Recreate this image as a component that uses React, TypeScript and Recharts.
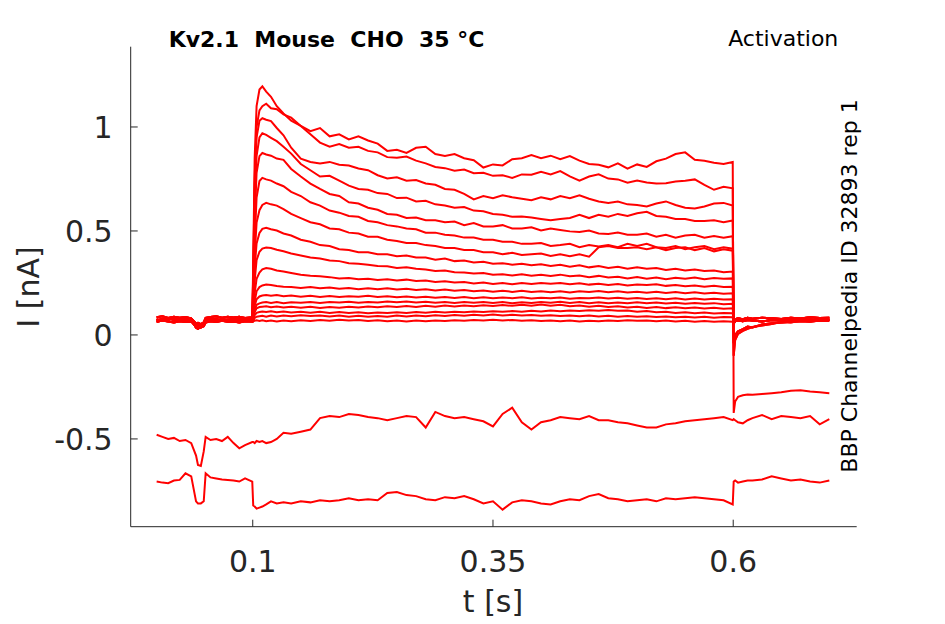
import { LineChart, Line, XAxis, YAxis } from 'recharts';

// sample times [s]: holding, test pulse, tail
const preTime = [0, 0.006, 0.012, 0.018, 0.024, 0.03, 0.036, 0.041, 0.043, 0.046, 0.049, 0.051, 0.056, 0.062, 0.068, 0.074, 0.08, 0.086, 0.092, 0.0995];
const stepTime = [0.1005, 0.102, 0.104, 0.107, 0.11, 0.114, 0.119, 0.125, 0.132, 0.14, 0.15,
  0.16, 0.17, 0.18, 0.19, 0.2, 0.21, 0.22, 0.23, 0.24, 0.25, 0.26, 0.27, 0.28, 0.29, 0.3,
  0.31, 0.32, 0.33, 0.34, 0.35, 0.36, 0.37, 0.38, 0.39, 0.4, 0.41, 0.42, 0.43, 0.44, 0.45,
  0.46, 0.47, 0.48, 0.49, 0.5, 0.51, 0.52, 0.53, 0.54, 0.55, 0.56, 0.57, 0.58, 0.59, 0.5995];
const tailTime = [0.6005, 0.602, 0.605, 0.61, 0.615, 0.62, 0.63, 0.64, 0.65, 0.66, 0.67, 0.68, 0.69, 0.7];

// holding current before the pulse [nA]
const preA = [0.075, 0.068, 0.08, 0.072, 0.078, 0.07, 0.076, 0.05, 0.045, 0.048, 0.052, 0.072, 0.078, 0.07, 0.076, 0.072, 0.079, 0.071, 0.077, 0.074];
const preB = [0.062, 0.07, 0.065, 0.06, 0.066, 0.062, 0.064, 0.04, 0.032, 0.036, 0.042, 0.06, 0.066, 0.062, 0.068, 0.063, 0.065, 0.06, 0.066, 0.064];
const preC = [0.085, 0.09, 0.082, 0.088, 0.083, 0.086, 0.08, 0.055, 0.058, 0.052, 0.06, 0.082, 0.086, 0.09, 0.083, 0.088, 0.084, 0.087, 0.082, 0.085];
const preD = [0.07, 0.078, 0.072, 0.082, 0.068, 0.077, 0.072, 0.035, 0.03, 0.04, 0.045, 0.065, 0.07, 0.078, 0.068, 0.074, 0.07, 0.076, 0.068, 0.072];

// tail current after the pulse [nA]
const tailA = [0.06, 0.065, 0.07, 0.066, 0.072, 0.069, 0.065, 0.072, 0.07, 0.074, 0.068, 0.073, 0.07, 0.072];
const tailB = [-0.04, 0.0, 0.018, 0.028, 0.04, 0.036, 0.05, 0.056, 0.06, 0.064, 0.066, 0.063, 0.07, 0.068];
const tailC = [-0.1, -0.025, 0.005, 0.02, 0.03, 0.038, 0.045, 0.052, 0.062, 0.06, 0.068, 0.072, 0.07, 0.075];
const tailD = [0.05, 0.075, 0.08, 0.076, 0.082, 0.078, 0.083, 0.08, 0.077, 0.083, 0.079, 0.085, 0.081, 0.083];
const tailBig = [-0.375, -0.32, -0.298, -0.29, -0.286, -0.288, -0.284, -0.28, -0.276, -0.268, -0.266, -0.272, -0.276, -0.28];

// current during the test pulse, one array per sweep [nA]
const step1 = [0.35, 0.85, 1.1, 1.18, 1.195, 1.17, 1.145, 1.1, 1.065, 1.03, 1.005, 0.98, 0.995, 0.955, 0.965, 0.94, 0.955, 0.935, 0.92, 0.885, 0.89, 0.875, 0.9, 0.905, 0.87, 0.86, 0.87, 0.85, 0.84, 0.805, 0.82, 0.815, 0.845, 0.85, 0.865, 0.85, 0.862, 0.845, 0.86, 0.838, 0.822, 0.818, 0.806, 0.825, 0.8, 0.82, 0.808, 0.835, 0.848, 0.87, 0.878, 0.842, 0.838, 0.828, 0.822, 0.832];
const step2 = [0.3, 0.75, 1.0, 1.08, 1.1, 1.112, 1.09, 1.085, 1.06, 1.045, 1.005, 0.965, 0.925, 0.905, 0.918, 0.9, 0.905, 0.885, 0.878, 0.855, 0.852, 0.858, 0.838, 0.825, 0.808, 0.802, 0.79, 0.795, 0.778, 0.78, 0.765, 0.768, 0.755, 0.772, 0.77, 0.785, 0.772, 0.788, 0.762, 0.742, 0.762, 0.772, 0.752, 0.748, 0.732, 0.742, 0.733, 0.728, 0.73, 0.738, 0.742, 0.748, 0.722, 0.698, 0.712, 0.705];
const step3 = [0.28, 0.7, 0.95, 1.03, 1.042, 1.035, 1.028, 0.995, 0.96, 0.9, 0.848, 0.832, 0.825, 0.832, 0.818, 0.815, 0.8, 0.792, 0.768, 0.752, 0.758, 0.742, 0.745, 0.728, 0.722, 0.702, 0.698, 0.678, 0.652, 0.668, 0.658, 0.672, 0.662, 0.655, 0.648, 0.662, 0.652, 0.668, 0.658, 0.672, 0.655, 0.642, 0.635, 0.642, 0.628, 0.625, 0.618, 0.632, 0.642, 0.625, 0.612, 0.608, 0.618, 0.632, 0.635, 0.622];
const step4 = [0.25, 0.62, 0.86, 0.95, 0.97, 0.962, 0.948, 0.932, 0.905, 0.872, 0.822, 0.792, 0.762, 0.765, 0.742, 0.718, 0.702, 0.698, 0.682, 0.678, 0.658, 0.66, 0.642, 0.645, 0.628, 0.622, 0.612, 0.615, 0.598, 0.595, 0.582, 0.578, 0.568, 0.57, 0.565, 0.558, 0.552, 0.558, 0.562, 0.578, 0.562, 0.578, 0.568, 0.582, 0.572, 0.585, 0.592, 0.572, 0.568, 0.558, 0.558, 0.548, 0.548, 0.552, 0.542, 0.55];
const step5 = [0.22, 0.55, 0.78, 0.86, 0.875, 0.868, 0.862, 0.848, 0.842, 0.798, 0.762, 0.728, 0.702, 0.678, 0.668, 0.638, 0.632, 0.612, 0.602, 0.582, 0.578, 0.562, 0.565, 0.552, 0.552, 0.542, 0.545, 0.528, 0.538, 0.522, 0.522, 0.528, 0.512, 0.512, 0.518, 0.502, 0.512, 0.505, 0.498, 0.495, 0.502, 0.488, 0.485, 0.492, 0.482, 0.482, 0.488, 0.472, 0.482, 0.468, 0.478, 0.482, 0.468, 0.476, 0.468, 0.475];
const step6 = [0.19, 0.45, 0.66, 0.74, 0.755, 0.748, 0.742, 0.728, 0.715, 0.688, 0.668, 0.638, 0.622, 0.598, 0.588, 0.572, 0.568, 0.548, 0.542, 0.528, 0.522, 0.512, 0.508, 0.492, 0.492, 0.482, 0.478, 0.468, 0.468, 0.458, 0.458, 0.448, 0.448, 0.438, 0.438, 0.442, 0.428, 0.432, 0.438, 0.422, 0.432, 0.425, 0.432, 0.422, 0.438, 0.428, 0.438, 0.422, 0.418, 0.428, 0.412, 0.422, 0.428, 0.412, 0.422, 0.415];
const step7 = [0.16, 0.38, 0.54, 0.6, 0.625, 0.635, 0.628, 0.622, 0.605, 0.582, 0.562, 0.542, 0.532, 0.512, 0.508, 0.492, 0.488, 0.472, 0.472, 0.458, 0.452, 0.442, 0.442, 0.432, 0.428, 0.418, 0.418, 0.408, 0.408, 0.398, 0.398, 0.388, 0.395, 0.385, 0.388, 0.392, 0.38, 0.388, 0.378, 0.388, 0.376, 0.422, 0.428, 0.418, 0.418, 0.422, 0.412, 0.422, 0.408, 0.418, 0.422, 0.408, 0.418, 0.402, 0.412, 0.405];
const step8 = [0.14, 0.32, 0.44, 0.49, 0.51, 0.515, 0.508, 0.502, 0.488, 0.478, 0.458, 0.448, 0.432, 0.428, 0.412, 0.408, 0.398, 0.398, 0.388, 0.388, 0.378, 0.382, 0.372, 0.372, 0.362, 0.368, 0.355, 0.358, 0.348, 0.352, 0.342, 0.345, 0.338, 0.342, 0.335, 0.34, 0.332, 0.338, 0.328, 0.335, 0.325, 0.332, 0.322, 0.328, 0.318, 0.325, 0.318, 0.322, 0.312, 0.318, 0.31, 0.315, 0.308, 0.31, 0.302, 0.305];
const step9 = [0.12, 0.26, 0.36, 0.4, 0.415, 0.42, 0.418, 0.41, 0.402, 0.392, 0.382, 0.372, 0.368, 0.358, 0.355, 0.345, 0.342, 0.338, 0.332, 0.33, 0.322, 0.326, 0.318, 0.315, 0.308, 0.31, 0.302, 0.3, 0.295, 0.298, 0.29, 0.292, 0.286, 0.292, 0.285, 0.29, 0.284, 0.29, 0.282, 0.286, 0.278, 0.284, 0.276, 0.28, 0.272, 0.278, 0.27, 0.276, 0.268, 0.275, 0.27, 0.276, 0.268, 0.274, 0.27, 0.272];
const step10 = [0.1, 0.2, 0.27, 0.3, 0.315, 0.322, 0.318, 0.31, 0.305, 0.298, 0.29, 0.285, 0.282, 0.278, 0.272, 0.274, 0.268, 0.27, 0.264, 0.268, 0.262, 0.266, 0.26, 0.262, 0.255, 0.258, 0.252, 0.255, 0.248, 0.252, 0.245, 0.25, 0.244, 0.25, 0.245, 0.25, 0.246, 0.25, 0.244, 0.248, 0.242, 0.246, 0.24, 0.245, 0.238, 0.243, 0.24, 0.244, 0.236, 0.24, 0.234, 0.238, 0.232, 0.236, 0.23, 0.232];
const step11 = [0.09, 0.16, 0.21, 0.23, 0.238, 0.242, 0.24, 0.235, 0.232, 0.23, 0.226, 0.23, 0.224, 0.228, 0.222, 0.226, 0.22, 0.225, 0.22, 0.224, 0.218, 0.222, 0.216, 0.22, 0.214, 0.218, 0.212, 0.216, 0.21, 0.214, 0.208, 0.213, 0.207, 0.212, 0.206, 0.21, 0.205, 0.21, 0.204, 0.21, 0.206, 0.211, 0.205, 0.21, 0.204, 0.208, 0.203, 0.208, 0.202, 0.206, 0.2, 0.205, 0.199, 0.203, 0.198, 0.2];
const step12 = [0.085, 0.14, 0.172, 0.185, 0.19, 0.192, 0.188, 0.192, 0.186, 0.19, 0.184, 0.188, 0.183, 0.187, 0.182, 0.186, 0.184, 0.188, 0.182, 0.186, 0.181, 0.185, 0.18, 0.184, 0.179, 0.183, 0.178, 0.182, 0.177, 0.181, 0.176, 0.18, 0.177, 0.181, 0.175, 0.179, 0.176, 0.18, 0.174, 0.178, 0.176, 0.18, 0.175, 0.179, 0.174, 0.178, 0.173, 0.177, 0.172, 0.176, 0.171, 0.175, 0.17, 0.174, 0.171, 0.172];
const step13 = [0.08, 0.12, 0.145, 0.152, 0.156, 0.158, 0.154, 0.158, 0.153, 0.157, 0.155, 0.159, 0.154, 0.158, 0.156, 0.16, 0.155, 0.159, 0.156, 0.161, 0.157, 0.161, 0.156, 0.16, 0.155, 0.159, 0.154, 0.158, 0.155, 0.159, 0.154, 0.158, 0.153, 0.157, 0.154, 0.158, 0.155, 0.16, 0.154, 0.158, 0.153, 0.157, 0.152, 0.156, 0.153, 0.157, 0.152, 0.156, 0.151, 0.155, 0.15, 0.154, 0.15, 0.153, 0.148, 0.15];
const step14 = [0.075, 0.11, 0.128, 0.134, 0.136, 0.138, 0.133, 0.137, 0.132, 0.136, 0.131, 0.135, 0.13, 0.134, 0.131, 0.136, 0.132, 0.137, 0.133, 0.138, 0.134, 0.139, 0.135, 0.14, 0.136, 0.141, 0.137, 0.142, 0.138, 0.143, 0.139, 0.144, 0.14, 0.145, 0.141, 0.146, 0.14, 0.145, 0.138, 0.142, 0.136, 0.14, 0.134, 0.138, 0.132, 0.136, 0.13, 0.134, 0.129, 0.133, 0.128, 0.132, 0.127, 0.131, 0.126, 0.128];
const step15 = [0.072, 0.095, 0.106, 0.11, 0.113, 0.11, 0.114, 0.109, 0.113, 0.108, 0.112, 0.107, 0.111, 0.106, 0.11, 0.105, 0.109, 0.104, 0.108, 0.105, 0.109, 0.106, 0.11, 0.107, 0.111, 0.108, 0.112, 0.109, 0.113, 0.11, 0.114, 0.111, 0.115, 0.112, 0.116, 0.113, 0.117, 0.114, 0.118, 0.115, 0.119, 0.116, 0.12, 0.116, 0.118, 0.112, 0.115, 0.109, 0.112, 0.106, 0.109, 0.104, 0.108, 0.103, 0.106, 0.104];
const step16 = [0.07, 0.082, 0.088, 0.09, 0.092, 0.088, 0.093, 0.089, 0.094, 0.09, 0.095, 0.091, 0.094, 0.089, 0.093, 0.088, 0.092, 0.087, 0.091, 0.088, 0.093, 0.089, 0.094, 0.09, 0.095, 0.091, 0.096, 0.092, 0.097, 0.093, 0.098, 0.094, 0.097, 0.093, 0.096, 0.092, 0.095, 0.091, 0.094, 0.09, 0.093, 0.089, 0.092, 0.088, 0.091, 0.087, 0.09, 0.086, 0.089, 0.085, 0.088, 0.084, 0.087, 0.083, 0.086, 0.085];
const step17 = [0.066, 0.068, 0.07, 0.067, 0.071, 0.066, 0.07, 0.065, 0.069, 0.066, 0.071, 0.067, 0.072, 0.068, 0.073, 0.069, 0.072, 0.067, 0.071, 0.066, 0.07, 0.065, 0.069, 0.066, 0.07, 0.067, 0.071, 0.068, 0.072, 0.069, 0.073, 0.07, 0.072, 0.068, 0.071, 0.067, 0.07, 0.066, 0.069, 0.065, 0.068, 0.066, 0.07, 0.067, 0.071, 0.068, 0.07, 0.066, 0.069, 0.065, 0.068, 0.064, 0.067, 0.063, 0.066, 0.064];

// the two sweeps that sit below zero the whole time
const lowAPre = [-0.48, -0.49, -0.5, -0.495, -0.51, -0.505, -0.52, -0.58, -0.625, -0.63, -0.56, -0.49, -0.505, -0.5, -0.51, -0.49, -0.52, -0.545, -0.53, -0.515];
const lowAStep = [-0.515, -0.52, -0.51, -0.515, -0.51, -0.52, -0.515, -0.5, -0.47, -0.475, -0.465, -0.455, -0.4, -0.39, -0.395, -0.38, -0.385, -0.395, -0.4, -0.41, -0.4, -0.39, -0.395, -0.445, -0.37, -0.39, -0.4, -0.395, -0.405, -0.415, -0.44, -0.38, -0.35, -0.42, -0.455, -0.42, -0.41, -0.395, -0.4, -0.405, -0.39, -0.41, -0.41, -0.42, -0.425, -0.435, -0.445, -0.445, -0.43, -0.425, -0.415, -0.41, -0.405, -0.4, -0.395, -0.41];
const lowATail = [-0.405, -0.41, -0.42, -0.425, -0.41, -0.4, -0.385, -0.405, -0.39, -0.395, -0.4, -0.39, -0.43, -0.405];
const lowBPre = [-0.705, -0.71, -0.713, -0.7, -0.697, -0.665, -0.68, -0.8, -0.81, -0.81, -0.8, -0.665, -0.685, -0.69, -0.695, -0.697, -0.7, -0.705, -0.69, -0.705];
const lowBStep = [-0.82, -0.825, -0.835, -0.83, -0.825, -0.815, -0.8, -0.81, -0.805, -0.81, -0.8, -0.805, -0.795, -0.8, -0.795, -0.785, -0.795, -0.79, -0.795, -0.76, -0.755, -0.77, -0.775, -0.79, -0.795, -0.78, -0.785, -0.775, -0.79, -0.81, -0.8, -0.84, -0.805, -0.795, -0.8, -0.81, -0.815, -0.8, -0.79, -0.795, -0.775, -0.765, -0.785, -0.79, -0.8, -0.795, -0.79, -0.8, -0.785, -0.79, -0.785, -0.78, -0.785, -0.79, -0.795, -0.815];
const lowBTail = [-0.705, -0.7, -0.71, -0.705, -0.7, -0.7, -0.695, -0.68, -0.69, -0.7, -0.695, -0.705, -0.71, -0.7];

const xTicks = [0.1, 0.35, 0.6];
const yTicks = [-0.5, 0, 0.5, 1];

const sweeps = [
  { key: 's1', values: [...preA, ...step1, ...tailBig] },
  { key: 's2', values: [...preB, ...step2, ...tailC] },
  { key: 's3', values: [...preC, ...step3, ...tailB] },
  { key: 's4', values: [...preD, ...step4, ...tailA] },
  { key: 's5', values: [...preA, ...step5, ...tailD] },
  { key: 's6', values: [...preB, ...step6, ...tailB] },
  { key: 's7', values: [...preC, ...step7, ...tailA] },
  { key: 's8', values: [...preD, ...step8, ...tailC] },
  { key: 's9', values: [...preA, ...step9, ...tailD] },
  { key: 's10', values: [...preB, ...step10, ...tailA] },
  { key: 's11', values: [...preC, ...step11, ...tailB] },
  { key: 's12', values: [...preD, ...step12, ...tailD] },
  { key: 's13', values: [...preA, ...step13, ...tailA] },
  { key: 's14', values: [...preB, ...step14, ...tailD] },
  { key: 's15', values: [...preC, ...step15, ...tailA] },
  { key: 's16', values: [...preD, ...step16, ...tailD] },
  { key: 's17', values: [...preA, ...step17, ...tailA] },
  { key: 'lowA', values: [...lowAPre, ...lowAStep, ...lowATail] },
  { key: 'lowB', values: [...lowBPre, ...lowBStep, ...lowBTail] },
];

const time = [...preTime, ...stepTime, ...tailTime];

const rows = time.map((t, i) => {
  const row: Record<string, number> = { t };
  sweeps.forEach(s => {
    row[s.key] = s.values[i];
  });
  return row;
});

const AXIS = '#262626';
const FONT = 'DejaVu Sans';

function App() {
  return (
    <div style={{ position: 'absolute', left: 0, top: 0, width: 945, height: 624, background: '#fff', fontFamily: FONT }}>
      <LineChart width={945} height={624} data={rows} margin={{ top: 46.7, right: 88.3, bottom: 0, left: 0 }}>
        <XAxis
          dataKey="t"
          type="number"
          domain={[-0.027, 0.7285]}
          allowDataOverflow
          ticks={xTicks}
          interval={0}
          height={97.3}
          tickSize={-7}
          tickMargin={31}
          axisLine={{ stroke: AXIS }}
          tickLine={{ stroke: AXIS }}
          tick={{ fill: AXIS, fontSize: 30, fontFamily: FONT }}
        />
        <YAxis
          type="number"
          domain={[-0.922, 1.386]}
          allowDataOverflow
          ticks={yTicks}
          interval={0}
          width={130.7}
          tickSize={-7}
          tickMargin={25}
          axisLine={{ stroke: AXIS }}
          tickLine={{ stroke: AXIS }}
          tick={{ fill: AXIS, fontSize: 30, fontFamily: FONT }}
        />
        {sweeps.map(s => (
          <Line
            key={s.key}
            dataKey={s.key}
            type="linear"
            stroke="#ff0000"
            strokeWidth={2}
            dot={false}
            activeDot={false}
            isAnimationActive={false}
          />
        ))}
      </LineChart>
      <svg width={945} height={624} style={{ position: 'absolute', left: 0, top: 0, pointerEvents: 'none' }}>
        <text x={326.5} y={47.3} textAnchor="middle" fontSize={22} fontWeight="bold" fill="#000" fontFamily={FONT} style={{ whiteSpace: 'pre' }}>
          {'Kv2.1  Mouse  CHO  35 °C'}
        </text>
        <text x={838.3} y={46} textAnchor="end" fontSize={22} fill="#000" fontFamily={FONT}>
          Activation
        </text>
        <text x={857} y={286} textAnchor="middle" fontSize={22} fill="#000" fontFamily={FONT} transform="rotate(-90 857 286)">
          BBP Channelpedia ID 32893 rep 1
        </text>
        <text x={493} y={612} textAnchor="middle" fontSize={30} fill={AXIS} fontFamily={FONT}>
          t [s]
        </text>
        <text x={39} y={287} textAnchor="middle" fontSize={30} fill={AXIS} fontFamily={FONT} transform="rotate(-90 39 287)">
          I [nA]
        </text>
      </svg>
    </div>
  );
}

export default App;
